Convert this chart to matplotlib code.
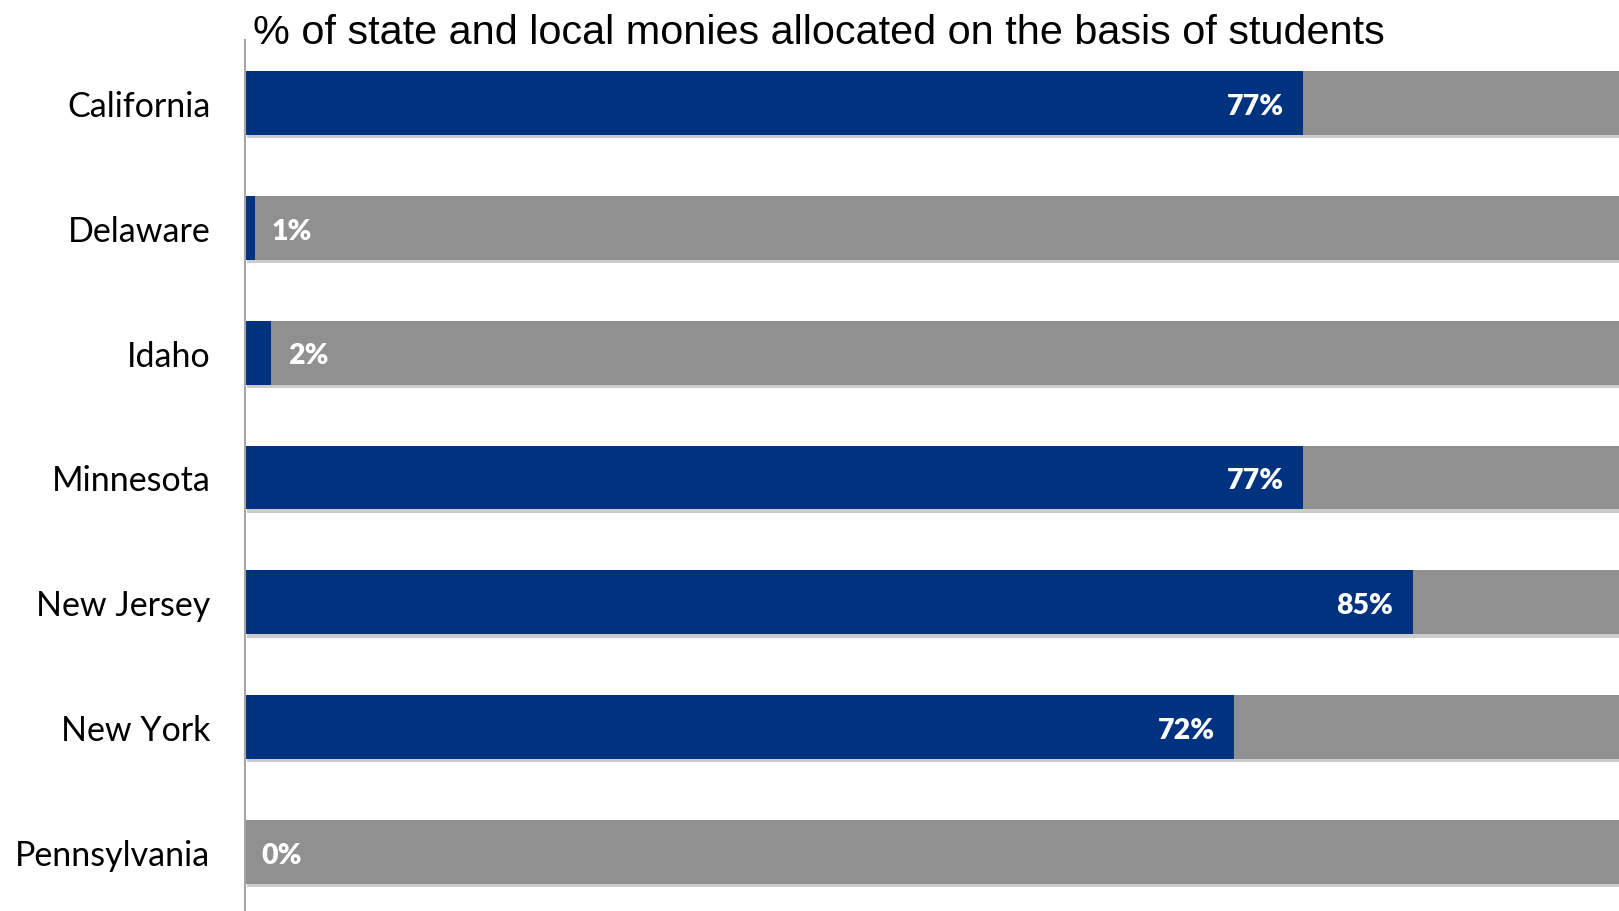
import matplotlib.pyplot as plt
import matplotlib.patheffects as pe

# data
states = ["California", "Delaware", "Idaho", "Minnesota", "New Jersey", "New York", "Pennsylvania"]
student_share = [77, 0.7, 1.9, 77, 85, 72, 0]
bar_labels = ["77%", "1%", "2%", "77%", "85%", "72%", "0%"]

blue = "#00337F"
grey = "#909090"

fig = plt.figure(figsize=(16.19, 9.12), dpi=100)
ax = fig.add_axes([245 / 1619, 0, 1 - 245 / 1619, 1 - 41 / 912])

shadow = [pe.SimplePatchShadow(offset=(1.5, -2.5), shadow_rgbFace="#000000", alpha=0.2), pe.Normal()]

ypos = list(range(len(states)))
ax.barh(ypos, [100] * len(states), height=0.51, color=grey, path_effects=shadow, zorder=1)
ax.barh(ypos, student_share, height=0.51, color=blue, zorder=2)

for y, v, lab in zip(ypos, student_share, bar_labels):
    if v >= 10:
        ax.annotate(lab, (v, y), xytext=(-14, -2), textcoords="offset points",
                    ha="right", va="center", color="white", fontsize=20.5,
                    fontweight="heavy", family="Lato", zorder=3)
    else:
        ax.annotate(lab, (v, y), xytext=(12, -2), textcoords="offset points",
                    ha="left", va="center", color="white", fontsize=20.5,
                    fontweight="heavy", family="Lato", zorder=3)

ax.set_xlim(0, 100)
ax.set_ylim(6.473, -0.505)
ax.set_yticks(ypos)
ax.set_yticklabels(states, family="Lato", fontsize=24.5)
ax.tick_params(axis="y", length=0, pad=25)
ax.set_xticks([])
for s in ["top", "right", "bottom"]:
    ax.spines[s].set_visible(False)
ax.spines["left"].set_color("#A6A6A6")
ax.spines["left"].set_linewidth(1.5)

fig.text(253 / 1619, 1 - 44 / 912, "% of state and local monies allocated on the basis of students",
         family="Liberation Sans", fontsize=29.8, va="baseline", ha="left")

fig.savefig("out.png", dpi=100)
